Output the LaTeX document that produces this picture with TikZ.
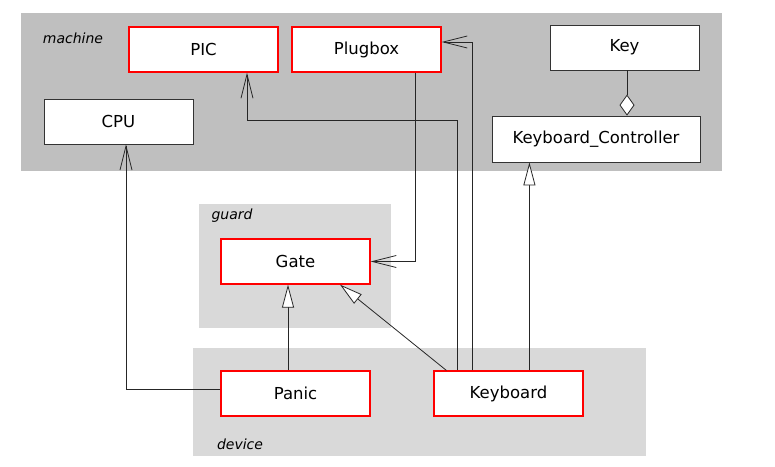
\documentclass[tikz,border=0pt]{standalone}
\usepackage{fontspec}
\setmainfont{DejaVu Sans}
\usetikzlibrary{arrows.meta}
\tikzset{
  cls/.style={draw=black!80,line width=0.8pt,fill=white,minimum width=149pt,minimum height=45pt,inner sep=0pt,font=\fontsize{16.5}{18}\selectfont},
  act/.style={cls,draw=red,line width=1.2pt},
  pkglabel/.style={inner sep=0pt,font=\fontsize{14}{16}\selectfont\itshape},
  use/.style={draw=black!85,line width=0.8pt,-{Straight Barb[length=24pt,width=12pt]}},
  gen/.style={draw=black!85,line width=0.8pt,-{Triangle[open,length=23pt,width=12pt,fill=white]}},
  agg/.style={draw=black!85,line width=0.8pt,-{Diamond[open,length=21pt,width=15pt,fill=white]}}
}
\begin{document}
\begin{tikzpicture}[x=1pt,y=-1pt]
    \useasboundingbox (0,0) rectangle (775,466);
    \fill[black!25] (21,13) rectangle (722,171);
    \fill[black!15] (199,204) rectangle (391,328);
    \fill[black!15] (193,348) rectangle (646,456);
    \node[pkglabel] (l1) at (73,38) {machine};
    \node[pkglabel] (l2) at (232,216) {guard};
    \node[pkglabel] (l3) at (240,444) {device};

    \node[act] (pic) at (203.5,49.5) {PIC};
    \node[act] (plugbox) at (366.5,49.5) {Plugbox};
    \node[cls] (key) at (624.5,47.5) {Key};
    \node[cls] (cpu) at (118.5,121.5) {CPU};
    \node[cls,minimum width=208pt,minimum height=46pt] (kc) at (596,139) {Keyboard\_Controller};
    \node[act] (gate) at (295.5,261.5) {Gate};
    \node[act] (panic) at (295.5,393.5) {Panic};
    \node[act] (kbd) at (508.5,393.5) {Keyboard};

    \draw[use]  ([yshift=4.5pt]panic.west) -| ([xshift=7.5pt]cpu.south);
    \draw[gen]  ([xshift=-7.5pt]panic.north) -- ([xshift=-7.5pt]gate.south);
    \draw[gen]  ([xshift=13pt]kbd.north west) -- ([xshift=44.5pt]gate.south);
    \draw[use]  ([xshift=24pt]kbd.north west) |- ([xshift=43.5pt,yshift=-48pt]pic.south) -- ([xshift=43.5pt]pic.south);
    \draw[use]  ([xshift=39pt]kbd.north west) |- ([yshift=7.5pt]plugbox.east);
    \draw[gen]  ([xshift=96pt]kbd.north west) -- ([xshift=96pt]kbd.north west |- kc.south);
    \draw[use]  ([xshift=48.5pt]plugbox.south) |- (gate.east);
    \draw[agg]  ([xshift=2.5pt]key.south) -- ([xshift=2.5pt]key.south |- kc.north);
\end{tikzpicture}
\end{document}
